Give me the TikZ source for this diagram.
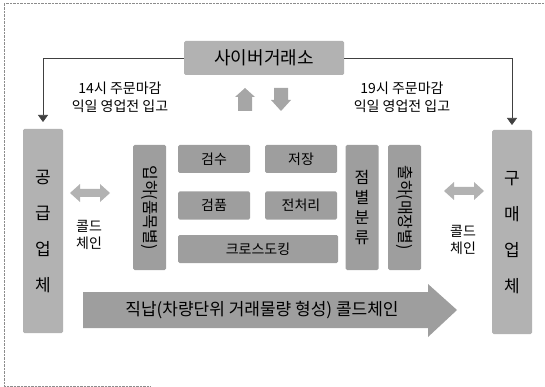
\documentclass[tikz,border=0pt]{standalone}
\usepackage{fontspec}
\setmainfont{Noto Sans CJK KR}
\usetikzlibrary{shapes,arrows.meta}

\tikzset{
  box/.style={fill=black!38, rounded corners=1.5pt, inner sep=0pt, font=\fontsize{14}{16}\selectfont},
  side/.style={box, fill=black!30, minimum width=40pt, minimum height=204pt, align=center, font=\fontsize{17}{36}\selectfont},
  vbox/.style={box, rotate=-90, minimum width=125pt, minimum height=33pt, font=\fontsize{16}{18}\selectfont},
  col/.style={box, minimum width=33pt, minimum height=125pt, align=center, font=\fontsize{16}{20}\selectfont},
  hbox/.style={box, minimum width=72pt, minimum height=28pt},
  note/.style={align=center, font=\fontsize{14}{18}\selectfont},
  feed/.style={draw=black!75, line width=0.6pt, -{Triangle[width=10pt,length=7pt]}}
}

\begin{document}
\begin{tikzpicture}[x=1pt,y=-1pt]
\useasboundingbox (0,0) rectangle (545,387);
\draw[black!45, densely dotted] (545,3) -- (4,3) -- (4,386) -- (150,386);

\node (Cyber) [box, fill=black!30, minimum width=160pt, minimum height=34pt, font=\fontsize{18}{20}\selectfont] at (264,58) {사이버거래소};

\node (Sup) [side, text depth=0pt] at (43,231) {공\\급\\업\\체};
\node (Buy) [side, text depth=0pt] at (512,232) {구\\매\\업\\체};
\coordinate (SupIn) at (43,122);
\coordinate (BuyIn) at (512,125);

\draw [feed] (Cyber.west) -| (SupIn);
\draw [feed] (Cyber.east) -| (BuyIn);

\node (OrdA) [note] at (120,97) {14시 주문마감\\익일 영업전 입고};
\node (OrdB) [note] at (402,97) {19시 주문마감\\익일 영업전 입고};

% up / down
\fill[black!35] (245,88) -- (255,97) -- (252,97) -- (252,111) -- (238,111) -- (238,97) -- (235,97) -- cycle;
\fill[black!35] (281,111) -- (291,100) -- (288,100) -- (288,88) -- (274,88) -- (274,100) -- (271,100) -- cycle;

% center blocks
\node (In) [vbox] at (149.5,207.5) {입하(품목별)};
\node (Gs) [hbox] at (214,159) {검수};
\node (Js) [hbox, node distance=87pt, right of=Gs] {저장};
\node (Gp) [hbox] at (214,205.5) {검품};
\node (Jc) [hbox, node distance=87pt, right of=Gp] {전처리};
\node (Cd) [hbox, minimum width=160pt] at (258,249) {크로스도킹};
\node (Jb) [col] at (362,207.5) {점\\별\\분\\류};
\node (Ch) [vbox] at (404.5,207.5) {출하(매장별)};

% cold chain
\fill[black!30] (70,193) -- (80,184) -- (80,189) -- (100,189) -- (100,184) -- (110,193) -- (100,202) -- (100,197) -- (80,197) -- (80,202) -- cycle;
\fill[black!30] (444,191) -- (454,182) -- (454,187) -- (474,187) -- (474,182) -- (484,191) -- (474,200) -- (474,195) -- (454,195) -- (454,200) -- cycle;
\node (ColdA) [note, font=\fontsize{14}{17}\selectfont] at (89,235) {콜드\\체인};
\node (ColdB) [note, font=\fontsize{14}{17}\selectfont] at (463,240) {콜드\\체인};

% direct
\fill[black!38] (83,292) -- (428,292) -- (428,284) -- (457,310) -- (428,337) -- (428,328) -- (83,328) -- cycle;
\node (Direct) [font=\fontsize{17}{19}\selectfont] at (262,310) {직납(차량단위 거래물량 형성) 콜드체인};

\end{tikzpicture}
\end{document}
